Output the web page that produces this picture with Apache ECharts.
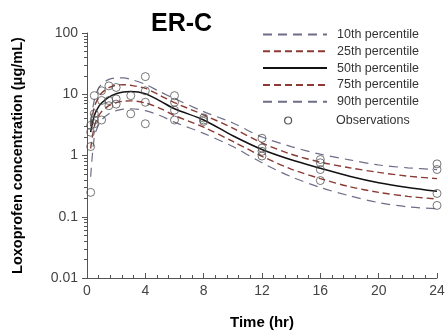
<!DOCTYPE html>
<html>
<head>
<meta charset="utf-8">
<script src="https://cdn.jsdelivr.net/npm/echarts@6/dist/echarts.min.js"></script>
<style>html,body{margin:0;padding:0;background:#fff;}#c{width:448px;height:335px;}</style>
</head>
<body>
<div id="c"></div>
<script>
// Curve time grid (hr)
const curveTimes = [0.25, 0.5, 0.75, 1, 1.5, 2, 2.5, 3, 4, 5, 6, 8, 10, 12, 14, 16, 18, 20, 22, 24];
const p10 = [0.45, 2.0, 3.0, 3.8, 4.8, 5.4, 5.7, 5.8, 5.4, 4.5, 3.5, 2.3, 1.4, 0.76, 0.45, 0.30, 0.22, 0.17, 0.145, 0.135];
const p25 = [1.3, 3.0, 4.2, 5.2, 6.5, 7.3, 7.7, 7.8, 7.2, 5.9, 4.5, 2.9, 1.7, 0.97, 0.60, 0.42, 0.31, 0.25, 0.215, 0.195];
const p50 = [2.4, 4.5, 6.0, 7.2, 9.0, 10.2, 10.9, 11.1, 10.2, 7.8, 5.8, 3.8, 2.1, 1.25, 0.85, 0.62, 0.46, 0.36, 0.30, 0.26];
const p75 = [3.0, 6.2, 8.5, 10.5, 12.8, 14.0, 14.3, 14.0, 12.5, 9.6, 7.3, 4.6, 2.8, 1.6, 1.05, 0.78, 0.63, 0.53, 0.46, 0.42];
const p90 = [3.5, 8.0, 12.0, 14.5, 17.5, 18.5, 18.5, 17.5, 14.5, 11.0, 8.5, 5.2, 3.4, 2.0, 1.4, 1.05, 0.85, 0.70, 0.63, 0.59];

// Observations
const obsTimes = [0.25,0.25,0.25,0.25, 0.5,0.5,0.5,0.5, 1,1,1, 1.5,1.5,1.5, 2,2,2, 3,3, 4,4,4,4, 6,6,6,6, 8,8,8, 12,12,12,12, 16,16,16,16, 24,24,24,24];
const obsValues = [0.25,1.4,2.4,3.1, 3.3,3.8,4.8,9.5, 3.8,7.9,11.4, 6.5,7.9,13.7, 6.9,8.4,12.9, 4.8,9.5, 3.3,7.4,11.4,19.4, 3.8,5.5,7.4,9.5, 3.6,3.8,4.1, 0.98,1.17,1.32,1.91, 0.39,0.59,0.76,0.86, 0.153,0.24,0.59,0.73];

const xTicks = [0, 4, 8, 12, 16, 20, 24];
const yTickLabels = ['0.01', '0.1', '1', '10', '100'];

const FONT = 'Liberation Sans, Arial, sans-serif';
const GRAY = '#6e6e88';
const RED = '#8b3a34';
const OBS = '#555';

function pairs(xs, ys) { return xs.map((x, i) => [x, ys[i]]); }

function lineSeries(name, vals, color, type, width) {
  return {
    name: name, type: 'line', data: pairs(curveTimes, vals),
    showSymbol: false, symbol: 'none', smooth: 0.3,
    lineStyle: { color: color, type: type, width: width },
    itemStyle: { color: color },
    silent: true, z: 2
  };
}

const chart = echarts.init(document.getElementById('c'), null, { renderer: 'canvas' });
chart.setOption({
  animation: false,
  backgroundColor: '#fff',
  title: {
    text: 'ER-C', left: 146, top: 7,
    textStyle: { fontFamily: FONT, fontSize: 25, fontWeight: 'bold', color: '#000' }
  },
  legend: [{
    orient: 'vertical', left: 257, top: 23, align: 'left',
    itemWidth: 64, itemHeight: 14, itemGap: 3.8,
    itemStyle: { opacity: 0 },
    data: ['10th percentile', '25th percentile', '50th percentile', '75th percentile', '90th percentile'],
    textStyle: { fontFamily: FONT, fontSize: 12.5, color: '#333', padding: [0, 0, 0, 5] }
  }, {
    orient: 'vertical', left: 279, top: 109, align: 'left',
    itemWidth: 52, itemHeight: 7,
    data: [{ name: 'Observations', icon: 'circle',
             itemStyle: { color: 'rgba(0,0,0,0)', borderColor: OBS, borderWidth: 1.2, opacity: 1 } }],
    textStyle: { fontFamily: FONT, fontSize: 12.5, color: '#333', padding: [0, 0, 0, 17] }
  }],
  grid: { left: 87, right: 11, top: 33, bottom: 53, containLabel: false },
  xAxis: {
    type: 'value', min: 0, max: 24, interval: 4,
    name: 'Time (hr)', nameLocation: 'middle', nameGap: 37,
    nameTextStyle: { fontFamily: FONT, fontSize: 15, fontWeight: 'bold', color: '#000' },
    axisLine: { show: true, lineStyle: { color: '#555', width: 1 } },
    axisTick: { show: true, inside: true, length: 5, lineStyle: { color: '#555' } },
    minorTick: { show: true, splitNumber: 5, length: 3, lineStyle: { color: '#555' } },
    axisLabel: {
      fontFamily: FONT, fontSize: 14, color: '#444', margin: 6,
      formatter: v => xTicks.indexOf(v) >= 0 ? String(v) : ''
    },
    splitLine: { show: false }
  },
  yAxis: {
    type: 'log', logBase: 10, min: 0.01, max: 100,
    name: 'Loxoprofen concentration (\u03bcg/mL)', nameLocation: 'middle', nameGap: 62,
    nameTextStyle: { fontFamily: FONT, fontSize: 14.5, fontWeight: 'bold', color: '#000' },
    axisLine: { show: true, lineStyle: { color: '#555', width: 1 } },
    axisTick: { show: true, inside: false, length: 5, lineStyle: { color: '#555' } },
    minorTick: { show: true, splitNumber: 9, length: 3, lineStyle: { color: '#555' } },
    axisLabel: {
      fontFamily: FONT, fontSize: 14, color: '#444', margin: 9,
      formatter: v => {
        const s = String(+v.toPrecision(6));
        return yTickLabels.indexOf(s) >= 0 ? s : '';
      }
    },
    splitLine: { show: false }
  },
  series: [
    lineSeries('10th percentile', p10, GRAY, [9, 6], 1.2),
    lineSeries('25th percentile', p25, RED, [7, 4], 1.4),
    lineSeries('50th percentile', p50, '#111', 'solid', 1.5),
    lineSeries('75th percentile', p75, RED, [7, 4], 1.4),
    lineSeries('90th percentile', p90, GRAY, [9, 6], 1.2),
    {
      name: 'Observations', type: 'scatter', data: pairs(obsTimes, obsValues),
      symbol: 'circle', symbolSize: 8,
      itemStyle: { color: 'rgba(0,0,0,0)', borderColor: OBS, borderWidth: 1 },
      z: 3, silent: true
    }
  ]
});
</script>
</body>
</html>
